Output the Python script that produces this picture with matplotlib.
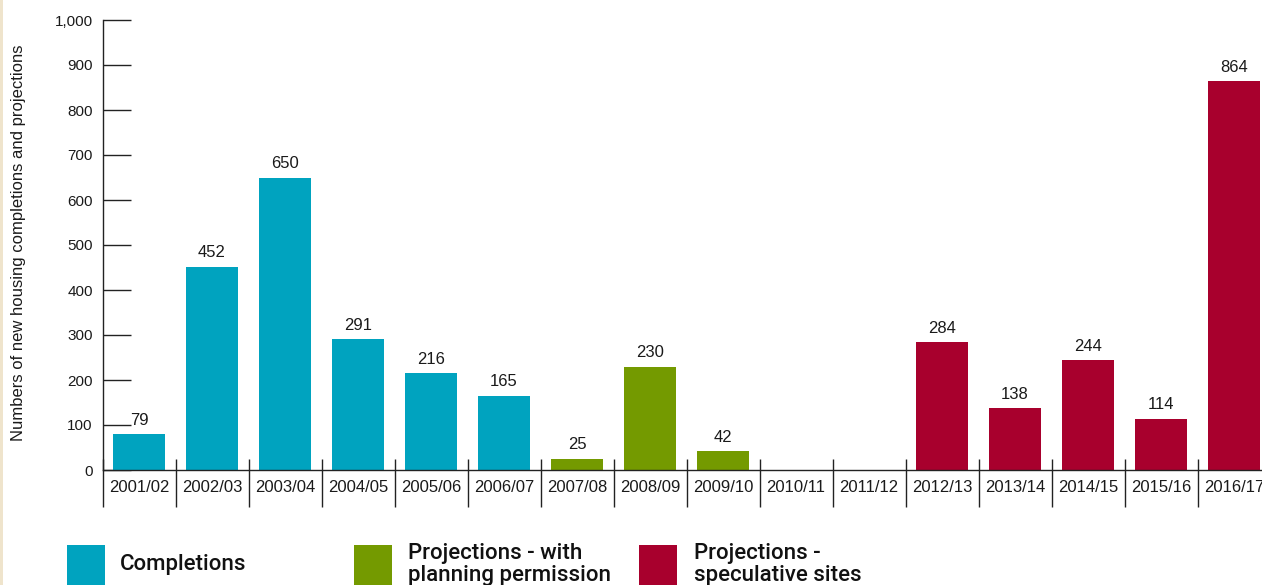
import matplotlib
matplotlib.use("Agg")
import matplotlib.pyplot as plt
from matplotlib.patches import Rectangle
import numpy as np

years = ["2001/02", "2002/03", "2003/04", "2004/05", "2005/06", "2006/07", "2007/08",
         "2008/09", "2009/10", "2010/11", "2011/12", "2012/13", "2013/14", "2014/15",
         "2015/16", "2016/17"]
values = [79, 452, 650, 291, 216, 165, 25, 230, 42, 0, 0, 284, 138, 244, 114, 864]
groups = ["c", "c", "c", "c", "c", "c", "p", "p", "p", "c", "c", "s", "s", "s", "s", "s"]
show_label = [True] * 9 + [False, False] + [True] * 5
yticks = [0, 100, 200, 300, 400, 500, 600, 700, 800, 900, 1000]
legend_labels = ["Completions", "Projections - with\nplanning permission", "Projections -\nspeculative sites"]

colors = {"c": "#00a3bf", "p": "#749a00", "s": "#a8002d"}
plt.rcParams['font.family'] = ['Liberation Sans', 'DejaVu Sans']

W, H = 1262, 585
fig = plt.figure(figsize=(W / 100, H / 100), dpi=100)
ax = fig.add_axes([102.5 / W, (H - 470) / H, 1168 / W, 450 / H])

x = np.arange(len(years))
bar_colors = [colors[g] for g in groups]
ax.bar(x, values, width=0.715, color=bar_colors, zorder=2)
for xi, v, s in zip(x, values, show_label):
    if s:
        ax.text(xi, v + 14, str(v), ha="center", va="bottom", fontsize=12, color="#1a1a1a")

ax.set_xlim(-0.5, len(years) - 0.5)
ax.set_ylim(0, 1000)
ax.set_yticks(yticks)
ax.set_yticklabels([f"{t:,}" for t in yticks], fontsize=11, color="#1a1a1a")
ax.tick_params(axis="y", direction="in", length=20, width=1.0, pad=7, color="#222222")
ax.set_xticks(x)
ax.set_xticklabels(years, fontsize=12, color="#1a1a1a")
ax.tick_params(axis="x", length=0, pad=7)

for sp in ["top", "right"]:
    ax.spines[sp].set_visible(False)
ax.spines["left"].set_color("#222222")
ax.spines["bottom"].set_color("#222222")
ax.spines["left"].set_linewidth(1.0)
ax.spines["bottom"].set_linewidth(1.0)

ax.vlines(np.arange(len(years)) - 0.5, -82, 24, colors="#222222", linewidth=1.0, clip_on=False, zorder=3)

fig.text(18.5 / W, (H - 243) / H, "Numbers of new housing completions and projections",
         rotation=90, ha="center", va="center", fontsize=12, color="#1a1a1a")

# left beige edge
fig.add_artist(Rectangle((0, 0), 3 / W, 1, transform=fig.transFigure, color="#efe4cc", lw=0))

# legend
leg_x = [67, 354, 639]
txt_x = [120, 408, 694]
for lx, tx, key, lab in zip(leg_x, txt_x, ["c", "p", "s"], legend_labels):
    fig.add_artist(Rectangle((lx / W, 0), 38 / W, 40 / H, transform=fig.transFigure,
                             color=colors[key], lw=0))
    fig.text(tx / W, (H - 564.5) / H, lab, ha="left", va="center", fontsize=16,
             family=["Roboto", "DejaVu Sans"], fontweight="medium", color="#111111",
             linespacing=1.06)

fig.savefig("out.png", dpi=100)
